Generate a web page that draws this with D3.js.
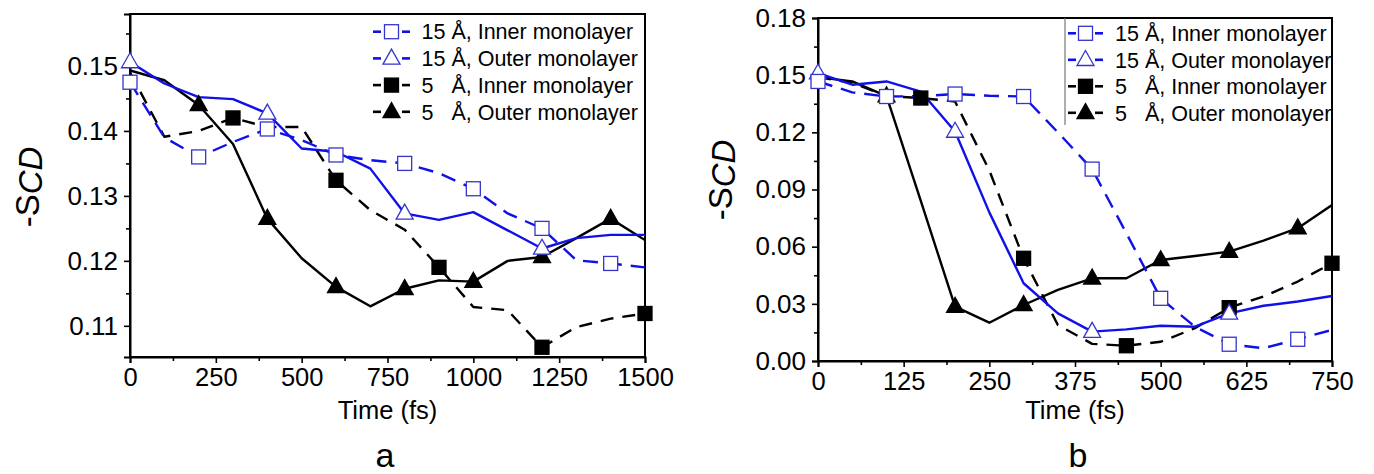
<!DOCTYPE html>
<html>
<head>
<meta charset="utf-8">
<script src="https://cdn.jsdelivr.net/npm/d3@7"></script>
<style>
  html, body { margin: 0; padding: 0; background: #fff; }
  svg text { font-family: "Liberation Sans", Arial, sans-serif; fill: #000; }
</style>
</head>
<body>
<svg id="chart" width="1374" height="474"></svg>
<script>
// ---- Panel a: order parameter vs time, 0–1500 fs ----
const timesA = [0, 100, 200, 300, 400, 500, 600, 700, 800, 900, 1000, 1100, 1200, 1300, 1400, 1500];
const a15Inner = [0.1475, 0.1390, 0.1360, 0.1383, 0.1403, 0.1386, 0.1363, 0.1355, 0.1350, 0.1335, 0.1311, 0.1273, 0.1250, 0.1201, 0.1196, 0.1190];
const a15Outer = [0.1506, 0.1473, 0.1452, 0.1449, 0.1427, 0.1373, 0.1368, 0.1342, 0.1273, 0.1263, 0.1275, 0.1247, 0.1219, 0.1235, 0.1240, 0.1240];
const a5Inner  = [0.1490, 0.1391, 0.1400, 0.1420, 0.1406, 0.1406, 0.1324, 0.1278, 0.1248, 0.1190, 0.1129, 0.1124, 0.1067, 0.1098, 0.1111, 0.1119];
const a5Outer  = [0.1493, 0.1478, 0.1440, 0.1380, 0.1265, 0.1204, 0.1160, 0.1130, 0.1157, 0.1170, 0.1168, 0.1200, 0.1206, 0.1235, 0.1265, 0.1232];
const aMarks15Inner = [0, 200, 400, 600, 800, 1000, 1200, 1400];
const aMarks15Outer = [0, 400, 800, 1200];
const aMarks5Inner  = [300, 600, 900, 1200, 1500];
const aMarks5Outer  = [200, 400, 600, 800, 1000, 1200, 1400];
const aXTicks = [0, 250, 500, 750, 1000, 1250, 1500];
const aYTicks = [0.11, 0.12, 0.13, 0.14, 0.15];

// ---- Panel b: order parameter vs time, 0–750 fs ----
const timesB = [0, 50, 100, 150, 200, 250, 300, 350, 400, 450, 500, 550, 600, 650, 700, 750];
const b15Inner = [0.1467, 0.1410, 0.1388, 0.1390, 0.1401, 0.1392, 0.1388, 0.1200, 0.1007, 0.0670, 0.0329, 0.0180, 0.0088, 0.0067, 0.0114, 0.0163];
const b15Outer = [0.1510, 0.1450, 0.1467, 0.1414, 0.1204, 0.0780, 0.0408, 0.0250, 0.0154, 0.0166, 0.0185, 0.0180, 0.0250, 0.0290, 0.0312, 0.0341];
const b5Inner  = [0.1490, 0.1460, 0.1390, 0.1380, 0.1362, 0.1000, 0.0539, 0.0189, 0.0090, 0.0080, 0.0101, 0.0172, 0.0280, 0.0338, 0.0417, 0.0513];
const b5Outer  = [0.1490, 0.1467, 0.1390, 0.0840, 0.0285, 0.0201, 0.0294, 0.0373, 0.0434, 0.0434, 0.0530, 0.0551, 0.0574, 0.0632, 0.0697, 0.0819];
const bMarks15Inner = [0, 100, 200, 300, 400, 500, 600, 700];
const bMarks15Outer = [0, 200, 400, 600];
const bMarks5Inner  = [150, 300, 450, 600, 750];
const bMarks5Outer  = [100, 200, 300, 400, 500, 600, 700];
const bXTicks = [0, 125, 250, 375, 500, 625, 750];
const bYTicks = [0.00, 0.03, 0.06, 0.09, 0.12, 0.15, 0.18];

const legendLabels = ["15 Å, Inner monolayer", "15 Å, Outer monolayer", "5\u2007 Å, Inner monolayer", "5\u2007 Å, Outer monolayer"];

const BLUE = "#1010e8";
const BLUE_MARK = "#3535cc";
const BLACK = "#000";

const svg = d3.select("#chart");

function seriesStyles() {
  return [
    { key: "15i", color: BLUE, markStroke: BLUE_MARK, fill: "#fff", dash: "15,9", shape: "square" },
    { key: "15o", color: BLUE, markStroke: BLUE_MARK, fill: "#fff", dash: null, shape: "triangle" },
    { key: "5i", color: BLACK, markStroke: BLACK, fill: BLACK, dash: "13,9", shape: "square" },
    { key: "5o", color: BLACK, markStroke: BLACK, fill: BLACK, dash: null, shape: "triangle" }
  ];
}

function marker(g, shape, cx, cy, st) {
  if (shape === "square") {
    const s = 14;
    g.append("rect").attr("x", cx - s / 2).attr("y", cy - s / 2).attr("width", s).attr("height", s)
      .attr("fill", st.fill).attr("stroke", st.markStroke).attr("stroke-width", 1.3);
  } else {
    const w = 17, h = 15;
    g.append("path")
      .attr("d", `M${cx},${cy - h * 0.62}L${cx + w / 2},${cy + h * 0.38}L${cx - w / 2},${cy + h * 0.38}Z`)
      .attr("fill", st.fill).attr("stroke", st.markStroke).attr("stroke-width", 1.3);
  }
}

function panel(cfg) {
  const x = d3.scaleLinear().domain(cfg.xDomain).range([cfg.left, cfg.right]);
  const y = d3.scaleLinear().domain(cfg.yDomain).range([cfg.bottom, cfg.top]);
  const g = svg.append("g");

  // frame
  g.append("rect").attr("x", cfg.left).attr("y", cfg.top)
    .attr("width", cfg.right - cfg.left).attr("height", cfg.bottom - cfg.top)
    .attr("fill", "none").attr("stroke", "#000").attr("stroke-width", 2);

  // axes: major ticks with labels, minor ticks halfway
  const xAxis = d3.axisBottom(x).tickValues(cfg.xTicks).tickSize(6).tickPadding(5).tickFormat(d3.format("d"));
  const yAxis = d3.axisLeft(y).tickValues(cfg.yTicks).tickSize(6).tickPadding(6).tickFormat(d3.format(cfg.yFormat));
  const xMinor = [];
  for (let i = 0; i < cfg.xTicks.length - 1; i++) xMinor.push((cfg.xTicks[i] + cfg.xTicks[i + 1]) / 2);
  const yMinor = [];
  const yStep = cfg.yTicks[1] - cfg.yTicks[0];
  for (let v = cfg.yTicks[0] - yStep / 2; v <= cfg.yDomain[1]; v += yStep) {
    if (v >= cfg.yDomain[0]) yMinor.push(v);
  }
  const gx = g.append("g").attr("transform", `translate(0,${cfg.bottom})`).call(xAxis);
  g.append("g").attr("transform", `translate(0,${cfg.bottom})`)
    .call(d3.axisBottom(x).tickValues(xMinor).tickSize(4).tickFormat(""))
    .call(s => s.select(".domain").remove());
  const gy = g.append("g").attr("transform", `translate(${cfg.left},0)`).call(yAxis);
  g.append("g").attr("transform", `translate(${cfg.left},0)`)
    .call(d3.axisLeft(y).tickValues(yMinor).tickSize(4).tickFormat(""))
    .call(s => s.select(".domain").remove());
  [gx, gy].forEach(a => {
    a.select(".domain").attr("stroke-width", 2);
    a.selectAll(".tick text").style("font-size", "26px").style("font-family", '"Liberation Sans", Arial, sans-serif');
  });
  gx.selectAll(".tick text").style("font-size", "25.5px");
  g.selectAll(".tick line").attr("stroke-width", 1.6);

  // series
  const styles = seriesStyles();
  const order = [3, 2, 1, 0];
  const clipId = "clip-" + cfg.name;
  svg.append("clipPath").attr("id", clipId).append("rect")
    .attr("x", cfg.left).attr("y", cfg.top - 20).attr("width", cfg.right - cfg.left).attr("height", cfg.bottom - cfg.top + 20);
  const line = d3.line().x((d, i) => x(cfg.times[i])).y(d => y(d));
  order.forEach(k => {
    const st = styles[k];
    g.append("path").datum(cfg.series[k]).attr("d", line)
      .attr("fill", "none").attr("stroke", st.color).attr("stroke-width", 2.4)
      .attr("stroke-dasharray", st.dash).attr("stroke-linejoin", "round")
      .attr("clip-path", `url(#${clipId})`);
  });
  order.forEach(k => {
    const st = styles[k];
    const mg = g.append("g");
    cfg.marks[k].forEach(t => {
      const i = cfg.times.indexOf(t);
      marker(mg, st.shape, x(t), y(cfg.series[k][i]), st);
    });
  });

  // legend
  const lg = g.append("g");
  lg.append("rect").attr("x", cfg.legend.boxX).attr("y", cfg.top + 1)
    .attr("width", cfg.right - cfg.legend.boxX - 1).attr("height", cfg.legend.boxH)
    .attr("fill", "#fff");
  if (cfg.legend.border) {
    lg.append("line").attr("x1", cfg.legend.boxX).attr("x2", cfg.legend.boxX)
      .attr("y1", cfg.top).attr("y2", cfg.top + cfg.legend.boxH)
      .attr("stroke", "#777").attr("stroke-width", 1.2);
  }
  styles.forEach((st, k) => {
    const cy = cfg.legend.y0 + k * cfg.legend.dy;
    const x0 = cfg.legend.symX0, x1 = cfg.legend.symX1, cx = (x0 + x1) / 2;
    lg.append("line").attr("x1", x0).attr("x2", x0 + 8).attr("y1", cy).attr("y2", cy)
      .attr("stroke", st.color).attr("stroke-width", 2.6);
    lg.append("line").attr("x1", x1 - 8).attr("x2", x1).attr("y1", cy).attr("y2", cy)
      .attr("stroke", st.color).attr("stroke-width", 2.6);
    marker(lg, st.shape, cx, cy, st);
    lg.append("text").attr("x", cfg.legend.textX).attr("y", cy).attr("dy", "0.36em")
      .style("font-size", "21.5px").style("white-space", "pre").text(legendLabels[k]);
  });

  // axis titles
  g.append("text").attr("x", (cfg.left + cfg.right) / 2).attr("y", 419)
    .attr("text-anchor", "middle").style("font-size", "25.5px").text("Time (fs)");
  const yt = g.append("text")
    .attr("transform", `translate(${cfg.yTitleX},${cfg.yTitleY}) rotate(-90)`)
    .attr("text-anchor", "middle").style("font-size", "33px");
  yt.append("tspan").text("-S");
  yt.append("tspan").attr("dy", "0.1em").style("font-style", "italic").text("CD");
  g.append("text").attr("x", cfg.tagX).attr("y", 467).attr("text-anchor", "middle")
    .style("font-size", "34px").text(cfg.name);
}

panel({
  name: "a",
  left: 130, right: 645, top: 14, bottom: 357,
  xDomain: [0, 1500], yDomain: [0.1052, 0.1580],
  xTicks: aXTicks, yTicks: aYTicks, yFormat: ".2f",
  times: timesA,
  series: [a15Inner, a15Outer, a5Inner, a5Outer],
  marks: [aMarks15Inner, aMarks15Outer, aMarks5Inner, aMarks5Outer],
  legend: { boxX: 366, boxH: 110, y0: 31.7, dy: 26.7, symX0: 373, symX1: 410, textX: 421.5, border: false },
  yTitleX: 39, yTitleY: 187, tagX: 385
});

panel({
  name: "b",
  left: 818, right: 1332, top: 18, bottom: 361,
  xDomain: [0, 750], yDomain: [0, 0.18],
  xTicks: bXTicks, yTicks: bYTicks, yFormat: ".2f",
  times: timesB,
  series: [b15Inner, b15Outer, b5Inner, b5Outer],
  marks: [bMarks15Inner, bMarks15Outer, bMarks5Inner, bMarks5Outer],
  legend: { boxX: 1065, boxH: 107, y0: 33.3, dy: 26.5, symX0: 1068, symX1: 1103, textX: 1115, border: true },
  yTitleX: 732, yTitleY: 180, tagX: 1078
});
</script>
</body>
</html>
